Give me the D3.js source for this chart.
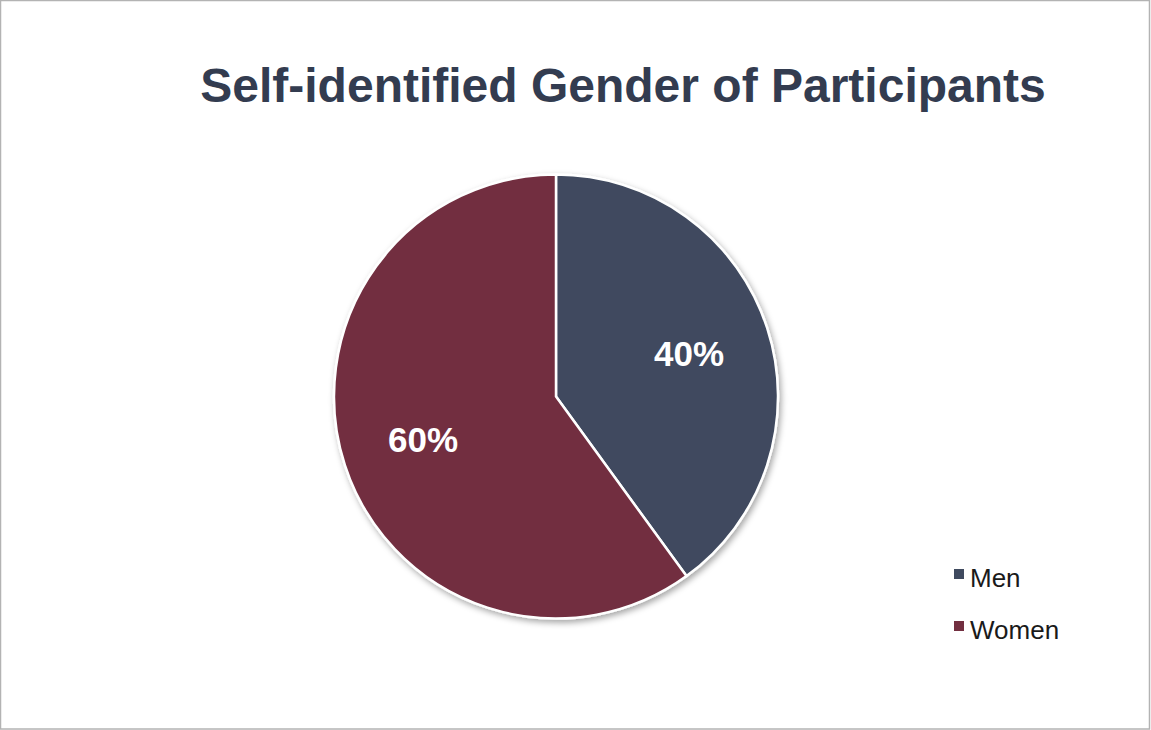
<!DOCTYPE html>
<html>
<head>
<meta charset="utf-8">
<script src="https://cdn.jsdelivr.net/npm/d3@7"></script>
<style>
  html, body { margin: 0; padding: 0; background: #fff; }
  svg { display: block; }
</style>
</head>
<body>
<svg id="chart" width="1151" height="730"></svg>
<script>
// Survey breakdown by self-identified gender
const categories = ["Men", "Women"];
const shares = [40, 60];
const sliceColors = ["#3f4a5f", "#722f40"];
const chartTitle = "Self-identified Gender of Participants";

const W = 1151, H = 730;
const svg = d3.select("#chart");

// frame around the chart area
svg.append("rect")
  .attr("x", 0.5).attr("y", 0.5)
  .attr("width", W - 2).attr("height", H - 1.5)
  .attr("fill", "#fff")
  .attr("stroke", "#b3b3b3").attr("stroke-width", 1.5);

svg.append("text")
  .attr("x", 623).attr("y", 102)
  .attr("text-anchor", "middle")
  .attr("font-family", "Liberation Sans, Arial, Helvetica, sans-serif")
  .attr("font-weight", "bold")
  .attr("font-size", 48)
  .attr("fill", "#333c50")
  .text(chartTitle);

const defs = svg.append("defs");
const shadow = defs.append("filter").attr("id", "pieShadow")
  .attr("x", "-20%").attr("y", "-20%").attr("width", "140%").attr("height", "140%");
shadow.append("feDropShadow")
  .attr("dx", 2).attr("dy", 3).attr("stdDeviation", 3)
  .attr("flood-color", "#000").attr("flood-opacity", 0.35);

const cx = 556, cy = 396.5, R = 222;
const color = d3.scaleOrdinal().domain(categories).range(sliceColors);

const pie = d3.pie().sort(null).value(d => d.value);
const data = categories.map((c, i) => ({ name: c, value: shares[i] }));
const arcs = pie(data);
const arc = d3.arc().innerRadius(0).outerRadius(R);

const g = svg.append("g").attr("transform", `translate(${cx},${cy})`);

g.append("g").attr("filter", "url(#pieShadow)")
  .selectAll("path")
  .data(arcs)
  .join("path")
  .attr("d", arc)
  .attr("fill", d => color(d.data.name))
  .attr("stroke", "#fff")
  .attr("stroke-width", 2.5)
  .attr("stroke-linejoin", "round");

const labelArc = d3.arc().innerRadius(R * 0.63).outerRadius(R * 0.63);
g.selectAll("text.pct")
  .data(arcs)
  .join("text")
  .attr("class", "pct")
  .attr("transform", d => `translate(${labelArc.centroid(d)})`)
  .attr("text-anchor", "middle")
  .attr("dy", "0.36em")
  .attr("font-family", "Liberation Sans, Arial, Helvetica, sans-serif")
  .attr("font-weight", "bold")
  .attr("font-size", 35)
  .attr("fill", "#fff")
  .text(d => d.data.value + "%");

// legend
const legend = svg.append("g").attr("transform", "translate(954,569)");
const items = legend.selectAll("g")
  .data(categories)
  .join("g")
  .attr("transform", (d, i) => `translate(0,${i * 52})`);
items.append("rect")
  .attr("width", 10).attr("height", 10)
  .attr("fill", d => color(d));
items.append("text")
  .attr("x", 16).attr("y", 18)
  .attr("font-family", "Liberation Sans, Arial, Helvetica, sans-serif")
  .attr("font-size", 26)
  .attr("fill", "#1a1a1a")
  .text(d => d);
</script>
</body>
</html>
